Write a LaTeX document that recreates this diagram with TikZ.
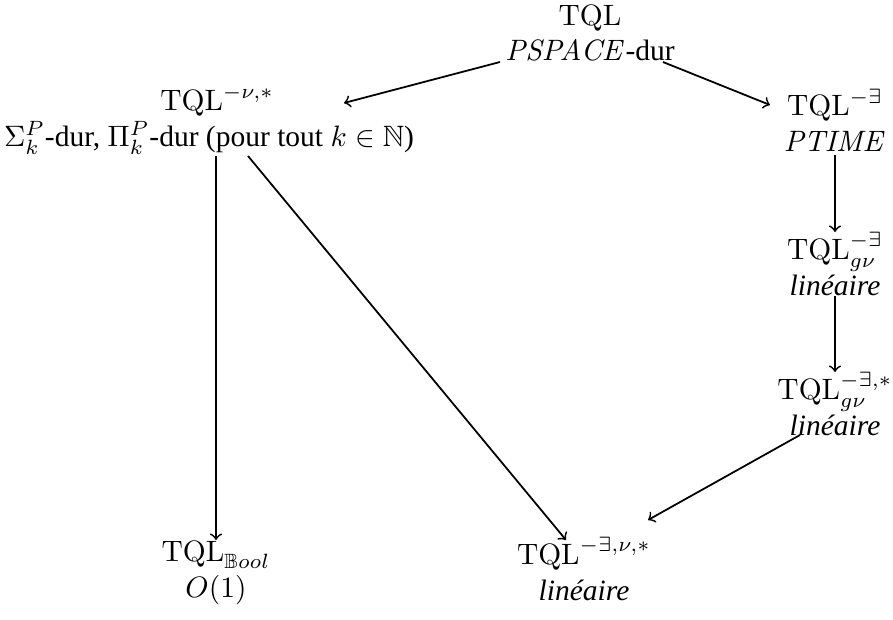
\documentclass[tikz,border=0pt]{standalone}
\usepackage{amssymb}
\usepackage[no-math]{fontspec}
\setmainfont{Liberation Serif}
\usetikzlibrary{calc}
\tikzset{
  lab/.style={align=center, inner sep=0pt},
  arr/.style={->, line width=0.6pt}
}
\begin{document}
\begin{tikzpicture}[x=0.339pt, y=-0.339pt]
\useasboundingbox (0,0) rectangle (893,619);
\node[lab] (top) at (590,33) {$\mathrm{TQL}$\\ $\mathit{PSPACE}$-dur};
\node[lab] (left) at (209,120) {\hspace*{5.5pt}$\mathrm{TQL}^{-\nu,*}$\\ $\Sigma^P_k$-dur, $\Pi^P_k$-dur (pour tout $k\in\mathbb{N}$)};
\node[lab] (right) at (835,120) {$\mathrm{TQL}^{-\exists}$\\ $\mathit{PTIME}$};
\node[lab] (gn) at (835,264) {$\mathrm{TQL}^{-\exists}_{g\nu}$\\ \textit{linéaire}};
\node[lab] (gns) at (835,404) {$\mathrm{TQL}^{-\exists,*}_{g\nu}$\\ \textit{linéaire}};
\node[lab] (bool) at (216,573) {$\mathrm{TQL}_{\mathbb{B}ool}$\\ $O(1)$};
\node[lab] (mid) at (584,569) {$\mathrm{TQL}^{-\exists,\nu,*}$\\ \textit{linéaire}};
\draw[arr] ($(top.center)+(-90,29)$) -- ($(left.center)+(135,-17)$);
\draw[arr] ($(top.center)+(73,29)$) -- ($(right.center)+(-65,-15)$);
\draw[arr] ($(left.center)+(7,36)$) -- ($(bool.center)+(0,-33)$);
\draw[arr] ($(left.center)+(39,36)$) -- ($(mid.center)+(-18,-29)$);
\draw[arr] ($(right.center)+(0,35)$) -- ($(gn.center)+(0,-32)$);
\draw[arr] ($(gn.center)+(0,32)$) -- ($(gns.center)+(0,-32)$);
\draw[arr] ($(gns.center)+(-35,31)$) -- ($(mid.center)+(64,-49)$);
\end{tikzpicture}
\end{document}
